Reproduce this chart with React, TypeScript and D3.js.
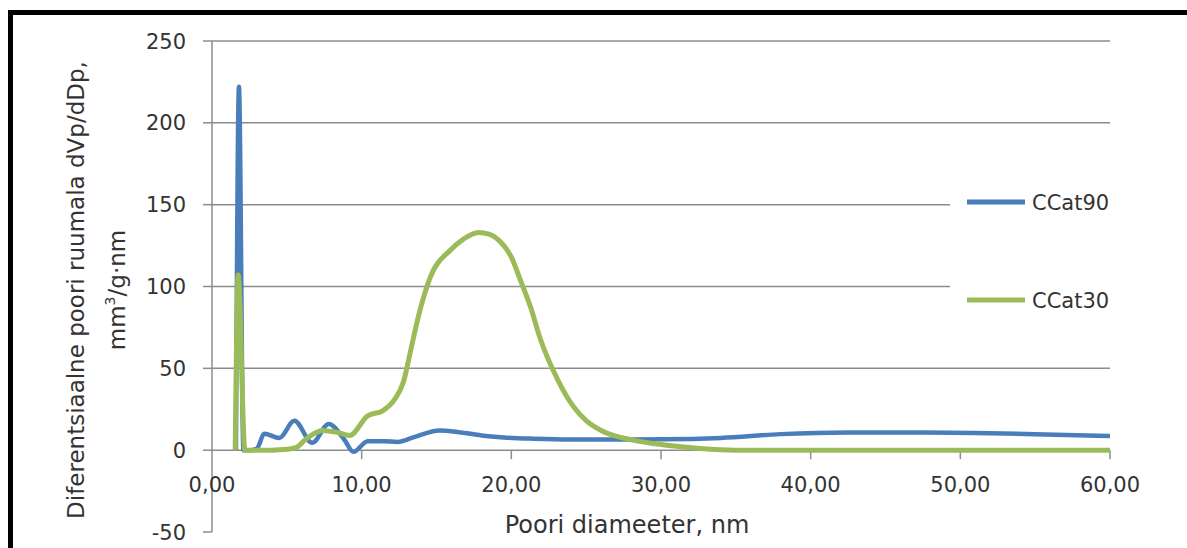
import React, { useEffect, useRef } from "react";
import * as d3 from "d3";

// CCat90 (blue) – pore diameter, nm / dVp/dDp
const ccat90X = [1.6, 1.8, 2.1, 2.6, 3.0, 3.5, 4.5, 5.5, 6.7, 7.8, 8.8, 9.45, 10.4, 11.5, 12.4, 13.5, 15.2, 16.5, 18, 19.5, 21.5, 24, 27, 30, 34, 38, 42.5, 47, 51, 55, 60];
const ccat90Y = [0, 222, 0, 0, 1, 10, 7.5, 18, 4.5, 16, 7, -1, 5.5, 5.5, 5, 8, 12, 11, 9, 7.8, 7, 6.5, 6.5, 6.6, 7.5, 9.8, 10.8, 10.8, 10.5, 9.8, 8.6];

// CCat30 (green)
const ccat30X = [1.55, 1.75, 2.2, 2.6, 4, 5, 5.6, 6.3, 7.4, 8.3, 9.2, 10.4, 11.4, 12.2, 12.8, 13.3, 13.8, 14.6, 15.9, 16.8, 17.8, 18.5, 19.3, 20.0, 20.6, 21.3, 21.9, 23.1, 24.2, 25, 26, 28.2, 30.4, 32.6, 35, 40, 45, 50, 55, 60];
const ccat30Y = [0, 107, 0, 0, 0, 0.5, 1.5, 7, 12, 11, 9, 21, 24, 31, 42, 62, 82, 106, 122, 129, 133, 132, 127, 118, 104, 87, 69, 43, 26, 18, 12, 6, 3, 1, 0, 0, 0, 0, 0, 0];

const xTicks = [0, 10, 20, 30, 40, 50, 60];
const yTicks = [-50, 0, 50, 100, 150, 200, 250];
const seriesNames = ["CCat90", "CCat30"];
const seriesColors = ["#4a7ebb", "#9bbb59"];

const W = 1187;
const H = 548;
const FONT = "'DejaVu Sans', Verdana, sans-serif";

const App = () => {
  const ref = useRef<SVGSVGElement | null>(null);

  useEffect(() => {
    const svg = d3.select(ref.current);
    svg.selectAll("*").remove();

    const x = d3.scaleLinear().domain([0, 60]).range([212, 1110]);
    const y = d3.scaleLinear().domain([-50, 250]).range([532, 41]);

    svg.append("rect").attr("width", W).attr("height", H).attr("fill", "#fff");

    // frame
    svg.append("rect").attr("x", 8).attr("y", 10).attr("width", W - 8).attr("height", 5).attr("fill", "#000");
    svg.append("rect").attr("x", 8).attr("y", 10).attr("width", 5).attr("height", H - 10).attr("fill", "#000");

    // gridlines
    svg.append("g")
      .selectAll("line")
      .data(yTicks.filter((d) => d > 0))
      .join("line")
      .attr("x1", x(0))
      .attr("x2", x(60))
      .attr("y1", (d) => y(d))
      .attr("y2", (d) => y(d))
      .attr("stroke", "#8c8c8c")
      .attr("stroke-width", 1.5);

    // y axis
    svg.append("line")
      .attr("x1", x(0)).attr("x2", x(0))
      .attr("y1", y(250)).attr("y2", y(-50))
      .attr("stroke", "#8c8c8c").attr("stroke-width", 1.5);
    svg.append("g")
      .selectAll("line")
      .data(yTicks)
      .join("line")
      .attr("x1", x(0) - 9)
      .attr("x2", x(0))
      .attr("y1", (d) => y(d))
      .attr("y2", (d) => y(d))
      .attr("stroke", "#8c8c8c")
      .attr("stroke-width", 1.5);
    svg.append("g")
      .selectAll("text")
      .data(yTicks)
      .join("text")
      .attr("x", 186)
      .attr("y", (d) => y(d))
      .attr("dy", "0.36em")
      .attr("text-anchor", "end")
      .attr("font-family", FONT)
      .attr("font-size", 21)
      .attr("fill", "#333")
      .text((d) => String(d));

    // x axis
    svg.append("line")
      .attr("x1", x(0)).attr("x2", x(60))
      .attr("y1", y(0)).attr("y2", y(0))
      .attr("stroke", "#8c8c8c").attr("stroke-width", 1.5);
    svg.append("g")
      .selectAll("line")
      .data(xTicks.slice(1))
      .join("line")
      .attr("x1", (d) => x(d))
      .attr("x2", (d) => x(d))
      .attr("y1", y(0))
      .attr("y2", y(0) + 9)
      .attr("stroke", "#8c8c8c")
      .attr("stroke-width", 1.5);
    svg.append("g")
      .selectAll("text")
      .data(xTicks)
      .join("text")
      .attr("x", (d) => x(d))
      .attr("y", 492)
      .attr("text-anchor", "middle")
      .attr("font-family", FONT)
      .attr("font-size", 21)
      .attr("fill", "#333")
      .text((d) => d3.format(".2f")(d).replace(".", ","));

    // axis titles
    svg.append("text")
      .attr("x", 627)
      .attr("y", 533)
      .attr("text-anchor", "middle")
      .attr("font-family", FONT)
      .attr("font-size", 24)
      .attr("fill", "#333")
      .text("Poori diameeter, nm");

    const yt = svg.append("g").attr("transform", "translate(0,290) rotate(-90)");
    yt.append("text")
      .attr("x", 0)
      .attr("y", 84)
      .attr("text-anchor", "middle")
      .attr("font-family", FONT)
      .attr("font-size", 23)
      .attr("fill", "#333")
      .text("Diferentsiaalne poori ruumala dVp/dDp,");
    const t2 = yt.append("text")
      .attr("x", 0)
      .attr("y", 125)
      .attr("text-anchor", "middle")
      .attr("font-family", FONT)
      .attr("font-size", 23)
      .attr("fill", "#333");
    t2.append("tspan").text("mm");
    t2.append("tspan").attr("font-size", 14).attr("dy", -10).text("3");
    t2.append("tspan").attr("dy", 10).text("/g·nm");

    // legend (covers gridlines)
    svg.append("rect").attr("x", 950).attr("y", 172).attr("width", 165).attr("height", 150).attr("fill", "#fff");

    // series
    const line = d3.line<[number, number]>()
      .x((d) => x(d[0]))
      .y((d) => y(d[1]))
      .curve(d3.curveMonotoneX);

    const s90: [number, number][] = ccat90X.map((v, i) => [v, ccat90Y[i]]);
    const s30: [number, number][] = ccat30X.map((v, i) => [v, ccat30Y[i]]);

    svg.append("path").attr("d", line(s90)).attr("fill", "none")
      .attr("stroke", seriesColors[0]).attr("stroke-width", 4.5).attr("stroke-linejoin", "round");
    svg.append("path").attr("d", line(s30)).attr("fill", "none")
      .attr("stroke", seriesColors[1]).attr("stroke-width", 5).attr("stroke-linejoin", "round");

    const legendY = [202, 300];
    seriesNames.forEach((name, i) => {
      svg.append("line")
        .attr("x1", 967).attr("x2", 1025)
        .attr("y1", legendY[i]).attr("y2", legendY[i])
        .attr("stroke", seriesColors[i]).attr("stroke-width", 5);
      svg.append("text")
        .attr("x", 1032)
        .attr("y", legendY[i])
        .attr("dy", "0.36em")
        .attr("font-family", FONT)
        .attr("font-size", 21)
        .attr("fill", "#333")
        .text(name);
    });
  }, []);

  return (
    <div>
      <svg ref={ref} width={W} height={H} style={{ position: "absolute", left: 0, top: 0 }} />
    </div>
  );
};

export default App;
